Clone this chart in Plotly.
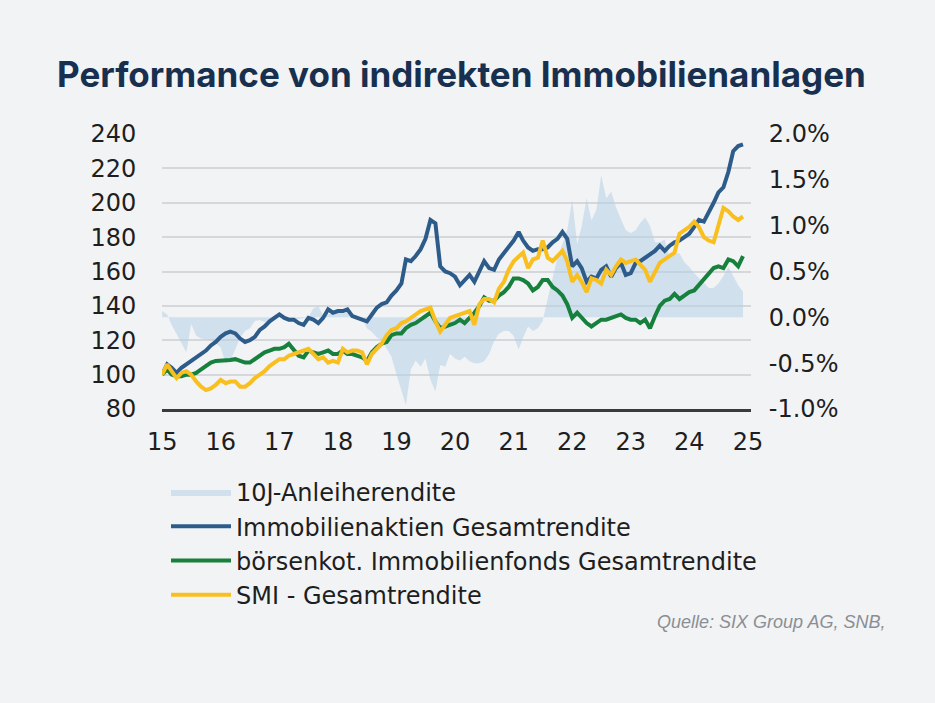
import pandas as pd
import plotly.graph_objects as go

# monthly dates Jan 2015 .. Dec 2024
dates = pd.date_range("2015-01-01", periods=120, freq="MS")

immo_aktien = [
    100, 106, 104, 101, 104, 106, 108, 110, 112, 114, 117, 119,
    122, 124, 125, 124, 121, 119, 120, 122, 126, 128, 131, 133,
    135, 133, 132, 132, 130, 129, 133, 132, 130, 133, 138, 136,
    137, 137, 138, 134, 133, 132, 131, 135, 139, 141, 142, 146,
    149, 153, 167, 166, 169, 173, 179, 190, 188, 163, 160, 159,
    157, 152, 155, 158, 154, 160, 166, 162, 161, 167, 171, 174,
    178, 183, 178, 174, 172, 173, 173, 174, 177, 179, 183, 179,
    163, 166, 162, 154, 157, 156, 161, 163, 157, 162, 165, 158,
    159, 165, 166, 168, 170, 172, 175, 172, 175, 177, 178, 180,
    182, 186, 190, 189, 194, 200, 206, 209, 218, 230, 233, 234,
]

immo_fonds = [
    100, 103, 100, 99, 99, 100, 100, 101, 103, 105, 107, 108,
    108, 108, 108.5, 109, 108, 107, 107, 109, 111, 113, 114, 115,
    115, 116, 118, 114, 111, 110, 114, 113, 112, 113, 114, 112,
    112, 114, 112, 112, 111, 110, 108, 113, 116, 118, 119, 123,
    124, 124, 127, 129, 130, 132, 134, 136, 131, 127, 128, 129,
    130, 132, 130, 133, 136, 140, 145, 143, 143, 146, 148, 151,
    156, 156, 155, 153, 149, 151, 155, 155, 151, 149, 146, 141,
    133, 136, 133, 130, 128, 130, 132, 132, 133, 134, 135, 133,
    132, 132, 130, 132, 127, 134, 140, 143, 144, 147, 144, 146,
    148, 149, 152, 155, 158, 162, 163, 162, 167, 166, 163, 169,
]

smi = [
    100, 106, 102, 98, 101, 102, 100, 96, 93, 91, 92, 94,
    97, 95, 96, 96, 93, 93, 95, 98, 100, 102, 105, 107,
    109, 109, 111, 112, 113, 114, 115, 112, 109, 110, 107, 108,
    107, 115, 113, 114, 114, 113, 106, 112, 115, 118, 123, 126,
    127, 130, 131, 133, 135, 137, 138, 139, 131, 125, 129, 133,
    134, 135, 136, 137, 129, 141, 144, 144, 142, 150, 154, 161,
    166, 169, 171, 162, 167, 168, 178, 168, 166, 169, 172, 166,
    154, 158, 154, 148, 156, 155, 153, 161, 158, 163, 167, 165,
    166, 167, 164, 161, 154, 160, 165, 167, 169, 171, 182, 184,
    186, 189, 186, 180, 178, 177, 187, 197, 195, 192, 190, 192,
]

rendite_10j = [
    0.07, 0.03, -0.08, -0.18, -0.28, -0.38, -0.07, -0.20, -0.23, -0.24, -0.25, -0.28,
    -0.33, -0.50, -0.47, -0.35, -0.22, -0.15, -0.12, -0.04, -0.03, -0.05, -0.02, 0.02,
    0.04, -0.02, -0.04, -0.03, -0.02, -0.01, 0.00, 0.10, 0.12, 0.02, 0.03, 0.05,
    0.06, 0.05, 0.06, 0.04, 0.02, -0.01, -0.12, -0.16, -0.22, -0.25, -0.35, -0.43,
    -0.62, -0.80, -0.96, -0.57, -0.47, -0.54, -0.45, -0.68, -0.81, -0.52, -0.54, -0.40,
    -0.45, -0.47, -0.43, -0.48, -0.50, -0.50, -0.48, -0.40, -0.26, -0.18, -0.15, -0.15,
    -0.20, -0.35, -0.22, -0.10, -0.15, -0.12, -0.04, 0.20, 0.42, 0.65, 0.80, 0.95,
    1.28, 0.80, 0.99, 1.30, 1.06, 1.17, 1.55, 1.30, 1.37, 1.20, 1.07, 0.95,
    0.92, 0.95, 1.03, 1.09, 1.00, 0.82, 0.82, 0.85, 0.65, 0.70, 0.70, 0.60,
    0.55, 0.48, 0.43, 0.38, 0.32, 0.32, 0.37, 0.45, 0.55, 0.45, 0.35, 0.28,
]

year_ticks = [f"{y}-01-01" for y in range(2015, 2026)]
year_labels = ["15", "16", "17", "18", "19", "20", "21", "22", "23", "24", "25"]
pct_ticks = [-1.0, -0.5, 0.0, 0.5, 1.0, 1.5, 2.0]
pct_labels = ["-1.0%", "-0.5%", "0.0%", "0.5%", "1.0%", "1.5%", "2.0%"]

names = [
    "10J-Anleiherendite",
    "Immobilienaktien Gesamtrendite",
    "börsenkot. Immobilienfonds Gesamtrendite",
    "SMI - Gesamtrendite",
]

BLUE = "#2d5c8a"
GREEN = "#16803c"
YELLOW = "#f9bf1f"
BG = "#f2f3f5"
AREA = "rgba(182,207,229,0.55)"

fig = go.Figure()
fig.add_trace(go.Scatter(
    x=dates, y=rendite_10j, name=names[0], yaxis="y",
    mode="lines", line=dict(width=0, color=AREA),
    fill="tozeroy", fillcolor=AREA,
))
fig.add_trace(go.Scatter(x=dates, y=immo_aktien, name=names[1], yaxis="y2",
                         mode="lines", line=dict(color=BLUE, width=4)))
fig.add_trace(go.Scatter(x=dates, y=immo_fonds, name=names[2], yaxis="y2",
                         mode="lines", line=dict(color=GREEN, width=4)))
fig.add_trace(go.Scatter(x=dates, y=smi, name=names[3], yaxis="y2",
                         mode="lines", line=dict(color=YELLOW, width=4)))

tick_font = dict(family="DejaVu Sans", size=24, color="#1e1e1e")

PL, PR, PT, PB = 162, 751, 134, 409  # plot area in pixels
W, H = 935, 703

fig.update_layout(
    width=W, height=H,
    paper_bgcolor=BG, plot_bgcolor=BG,
    margin=dict(l=PL, r=W - PR, t=PT, b=H - PB, autoexpand=False),
    title=dict(
        text="<b>Performance von indirekten Immobilienanlagen</b>",
        font=dict(family="Inter", size=35, color="#17304f"),
        xref="container", yref="container",
        x=57 / W, xanchor="left", y=1 - 75 / H, yanchor="middle",
    ),
    xaxis=dict(
        type="date", range=["2014-12-31", "2025-01-20"],
        tickvals=year_ticks, ticktext=year_labels,
        showgrid=False, zeroline=False,
        showline=True, linecolor="#3a3a3a", linewidth=3,
        ticks="outside", ticklen=9, tickcolor="rgba(0,0,0,0)",
        tickfont=tick_font,
    ),
    yaxis=dict(
        side="right", range=[-1.0, 2.0],
        tickvals=pct_ticks, ticktext=pct_labels,
        showgrid=False, zeroline=False, showline=False,
        ticks="outside", ticklen=12, tickcolor="rgba(0,0,0,0)",
        tickfont=tick_font,
    ),
    yaxis2=dict(
        side="left", overlaying="y", range=[80, 240], dtick=20, tick0=80,
        showgrid=True, gridcolor="#d6d7da", gridwidth=2,
        zeroline=False, showline=False,
        ticks="outside", ticklen=20, tickcolor="rgba(0,0,0,0)",
        tickfont=tick_font,
    ),
    legend=dict(
        xref="paper", yref="paper",
        x=(166 - PL) / (PR - PL), xanchor="left",
        y=(PB - 470) / (PB - PT), yanchor="top",
        bgcolor="rgba(0,0,0,0)",
        font=dict(family="DejaVu Sans", size=24, color="#1e1e1e"),
        itemwidth=60, tracegroupgap=0,
    ),
    showlegend=True,
)

fig.add_annotation(
    text="<i>Quelle: SIX Group AG, SNB,</i>",
    xref="paper", yref="paper",
    x=(887 - PL) / (PR - PL), xanchor="right",
    y=(PB - 622) / (PB - PT), yanchor="middle",
    showarrow=False,
    font=dict(family="Liberation Sans", size=18, color="#8a8e94"),
)

fig.write_html("out.html", config={"displayModeBar": False},
               post_script="document.body.style.margin='0';")
